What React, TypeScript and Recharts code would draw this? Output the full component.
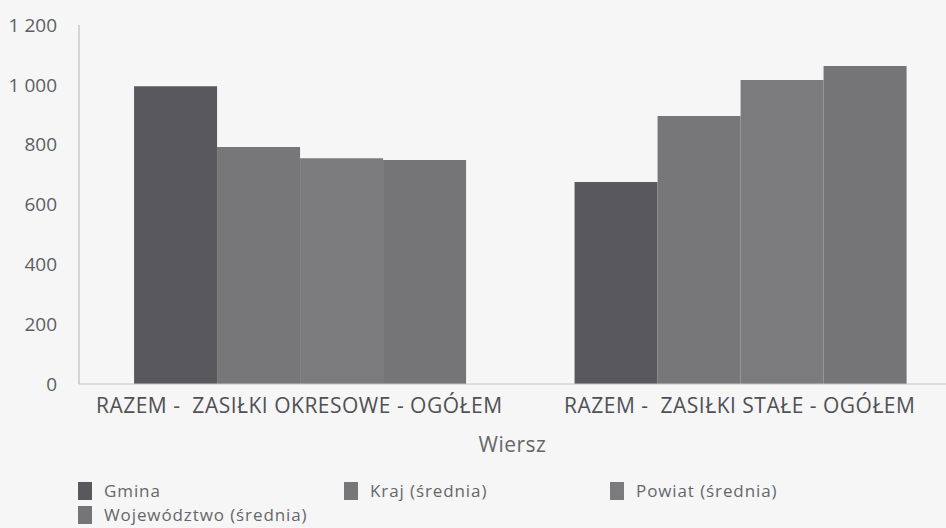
import React from 'react'
import { BarChart, Bar, XAxis, YAxis } from 'recharts'

const categories = ['RAZEM -\u00a0 ZASIŁKI OKRESOWE - OGÓŁEM', 'RAZEM -\u00a0 ZASIŁKI STAŁE - OGÓŁEM']
const gmina = [995, 675]
const kraj = [792, 896]
const powiat = [755, 1016]
const wojewodztwo = [749, 1063]
const yTicks = [0, 200, 400, 600, 800, 1000, 1200]

const series = [
    { key: 'gmina', name: 'Gmina', values: gmina, color: '#59595d' },
    { key: 'kraj', name: 'Kraj (średnia)', values: kraj, color: '#77777a' },
    { key: 'powiat', name: 'Powiat (średnia)', values: powiat, color: '#7b7b7e' },
    { key: 'wojewodztwo', name: 'Województwo (średnia)', values: wojewodztwo, color: '#757578' },
]

const data = categories.map((name, i) => {
    const row: any = { name }
    series.forEach(s => { row[s.key] = s.values[i] })
    return row
})

const font = '"Open Sans", "Noto Sans", sans-serif'

const fmt = (v: number) => v >= 1000 ? `${Math.floor(v / 1000)} ${String(v % 1000).padStart(3, '0')}` : String(v)

export default function App() {
    return (
        <div style={{ position: 'fixed', left: 0, top: 0, width: 946, height: 528, overflow: 'hidden', background: '#f6f6f7', fontFamily: font }}>
            <BarChart
                width={960}
                height={528}
                data={data}
                margin={{ top: 25, right: 0, bottom: 74, left: 0 }}
                barCategoryGap="12.5%"
                barGap={0}
            >
                <XAxis
                    dataKey="name"
                    height={70}
                    tickLine={false}
                    axisLine={{ stroke: '#c4c4c8' }}
                    tick={{ fontSize: 21, fill: '#505055', fontFamily: font, letterSpacing: 0.5 }}
                    tickMargin={8}
                    interval={0}
                    label={{ value: 'Wiersz', position: 'insideBottom', offset: 2, dx: -7, fontSize: 21, fill: '#66666a', fontFamily: font, letterSpacing: 0.5 }}
                />
                <YAxis
                    width={79}
                    domain={[0, 1200]}
                    ticks={yTicks}
                    tickFormatter={fmt}
                    tickLine={false}
                    axisLine={{ stroke: '#b4b4b8' }}
                    tick={{ fontSize: 19, fill: '#5e5e63', fontFamily: font }}
                    tickMargin={16}
                />
                {series.map(s => (
                    <Bar key={s.key} dataKey={s.key} name={s.name} fill={s.color} isAnimationActive={false} />
                ))}
            </BarChart>
            <div style={{ position: 'absolute', left: 78, top: 479, width: 820, display: 'flex', flexWrap: 'wrap', fontSize: 17, letterSpacing: 0.9, color: '#66666a', lineHeight: '24px' }}>
                {series.map(s => (
                    <div key={s.key} style={{ width: 266, height: 24, display: 'flex', alignItems: 'center' }}>
                        <span style={{ display: 'inline-block', width: 14, height: 18, background: s.color, marginRight: 12 }} />
                        {s.name}
                    </div>
                ))}
            </div>
        </div>
    )
}
